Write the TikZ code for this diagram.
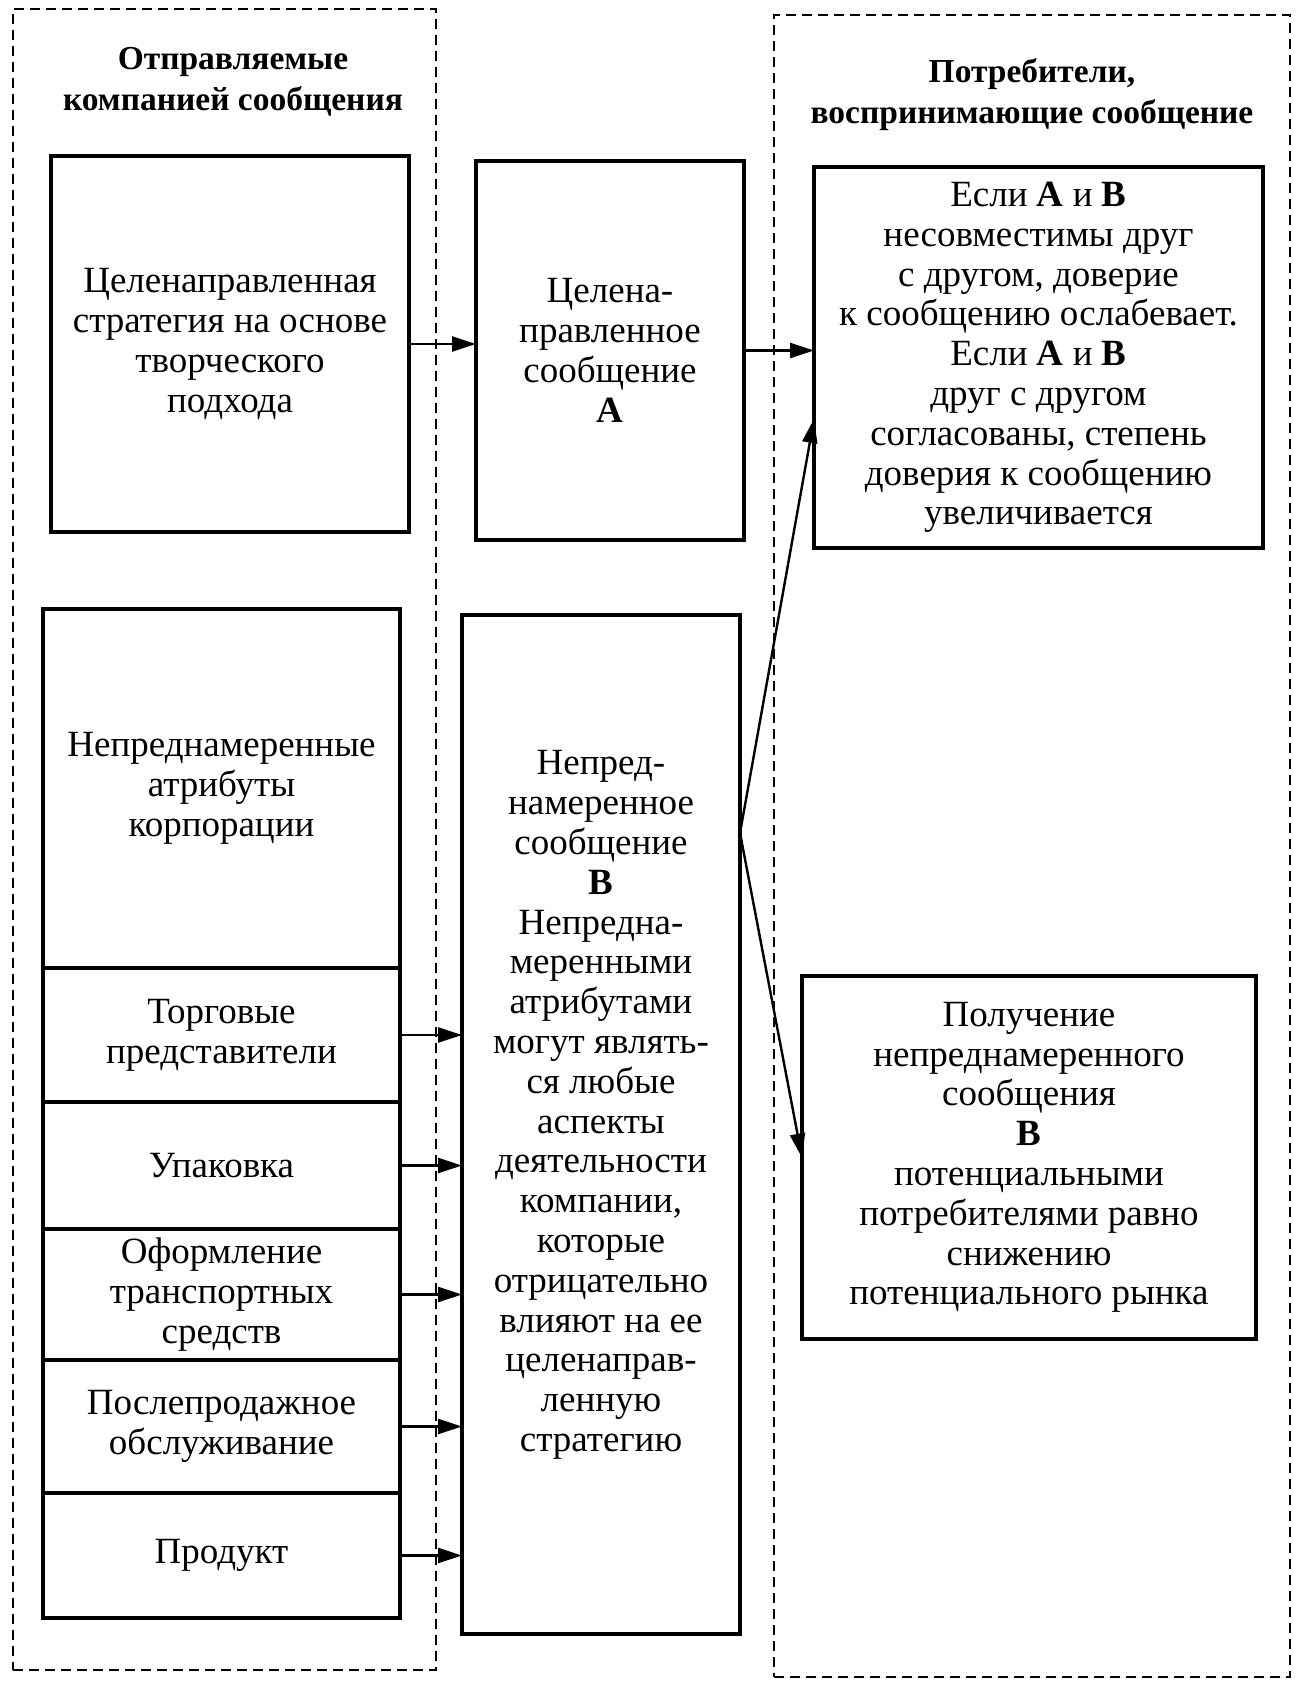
\documentclass[tikz,border=0pt]{standalone}
\usepackage{fontspec}
\setmainfont{Liberation Serif}
\usetikzlibrary{arrows.meta,calc}
\begin{document}
\begin{tikzpicture}[x=1pt,y=-1pt,
  box/.style={draw,line width=4pt,inner sep=0pt,outer sep=0pt,align=center},
  frame/.style={draw,line width=2.4pt,dash pattern=on 10pt off 6pt,inner sep=0pt,outer sep=0pt},
  txt/.style={align=center,inner sep=0pt,font=\fontsize{37}{39.8}\selectfont},
  ttl/.style={align=center,inner sep=0pt,font=\fontsize{33.5}{41}\selectfont\bfseries},
  arr/.style={line width=2.4pt,-{Triangle[length=24pt,width=15pt]}}]
\useasboundingbox (0,0) rectangle (1300,1686);
% frames
\node[frame,minimum width=423pt,minimum height=1661pt] (lf) at (224.5,839.5) {};
\node[frame,minimum width=516pt,minimum height=1662pt] (rf) at (1032,846) {};
% titles
\node[ttl] (lt) at (233,82) {Отправляемые\\компанией сообщения};
\node[ttl] (rt) at (1032,95) {Потребители,\\воспринимающие сообщение};
% top row
\node[box,txt,minimum width=358pt,minimum height=376pt] (b1) at (230,344)
  {Целенаправленная\\стратегия на основе\\творческого\\подхода};
\node[box,txt,minimum width=268pt,minimum height=379pt] (b2) at (610,350.5)
  {Целена-\\правленное\\сообщение\\\textbf{A}};
\node[box,txt,minimum width=449pt,minimum height=381pt] (b3) at (1038.5,357.5)
  {Если \textbf{A} и \textbf{B}\\несовместимы друг\\с другом, доверие\\к сообщению ослабевает.\\Если \textbf{A} и \textbf{B}\\друг с другом\\согласованы, степень\\доверия к сообщению\\увеличивается};
% left stack
\node[box,txt,minimum width=357pt,minimum height=359pt] (s0) at (221.5,788.5)
  {Непреднамеренные\\атрибуты\\корпорации};
\node[box,txt,minimum width=357pt,minimum height=134pt,anchor=north] (s1) at (s0.south)
  {Торговые\\представители};
\node[box,txt,minimum width=357pt,minimum height=127pt,anchor=north] (s2) at (s1.south)
  {Упаковка};
\node[box,txt,minimum width=357pt,minimum height=131pt,anchor=north] (s3) at (s2.south)
  {Оформление\\транспортных\\средств};
\node[box,txt,minimum width=357pt,minimum height=133pt,anchor=north] (s4) at (s3.south)
  {Послепродажное\\обслуживание};
\node[box,txt,minimum width=357pt,minimum height=125pt,anchor=north] (s5) at (s4.south)
  {Продукт};
% middle box
\node[box,minimum width=278pt,minimum height=1019pt] (mid) at (601,1124.5) {};
\node[txt] (midtxt) at (601,1105)
  {Непред-\\намеренное\\сообщение\\\textbf{B}\\Непредна-\\меренными\\атрибутами\\могут являть-\\ся любые\\аспекты\\деятельности\\компании,\\которые\\отрицательно\\влияют на ее\\целенаправ-\\ленную\\стратегию};
% box 4
\node[box,txt,minimum width=454pt,minimum height=363pt] (b4) at (1029,1157.5)
  {Получение\\непреднамеренного\\сообщения\\\textbf{B}\\потенциальными\\потребителями равно\\снижению\\потенциального рынка};
% arrows
\draw[arr] (b1.east) -- (b1.east -| b2.west);
\draw[arr] (b2.east) -- (b2.east -| b3.west);
\foreach \s in {s1,s2,s3,s4,s5}
  \draw[arr] (\s.east) -- (\s.east -| mid.west);
\coordinate (bsrc) at ($(mid.north east)+(0,218)$);
\coordinate (t3) at ($(b3.south west)+(0,-129)$);
\draw[arr] (bsrc) -- (t3);
\draw[arr] (bsrc) -- (b4.west);
\end{tikzpicture}
\end{document}
